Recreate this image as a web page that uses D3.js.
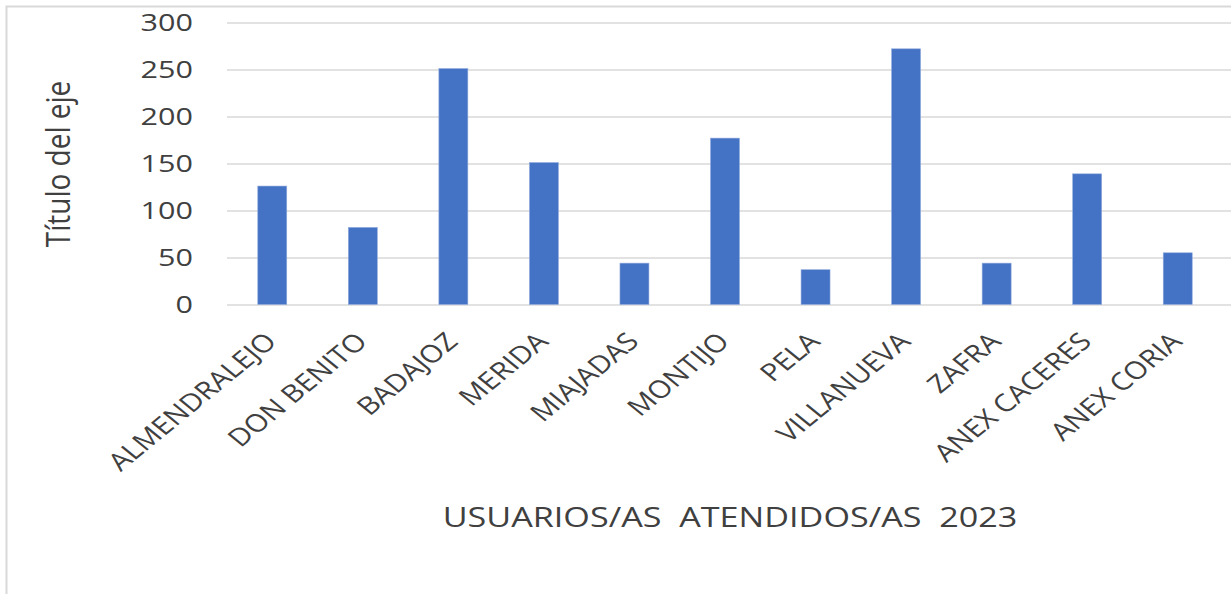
<!DOCTYPE html>
<html>
<head>
<meta charset="utf-8">
<script src="https://cdn.jsdelivr.net/npm/d3@7"></script>
<style>
  html, body { margin: 0; padding: 0; background: #ffffff; }
  svg { display: block; }
  text { font-family: "Open Sans", sans-serif; fill: #404040; }
</style>
</head>
<body>
<svg id="chart" width="1231" height="594"></svg>
<script>
const categories = ["ALMENDRALEJO", "DON BENITO", "BADAJOZ", "MERIDA", "MIAJADAS", "MONTIJO", "PELA", "VILLANUEVA", "ZAFRA", "ANEX CACERES", "ANEX CORIA"];
const values = [126, 82, 251, 151, 44, 177, 37, 272, 44, 139, 55];
const yTicks = [0, 50, 100, 150, 200, 250, 300];
const yTitle = "Título del eje";
const xTitle = "USUARIOS/AS  ATENDIDOS/AS  2023";

const W = 1231, H = 594;
const svg = d3.select("#chart");

// outer frame (only top and left edges visible)
svg.append("rect")
  .attr("x", 6.5).attr("y", 6.5)
  .attr("width", W + 20).attr("height", H + 20)
  .attr("fill", "none").attr("stroke", "#d9d9d9").attr("stroke-width", 2);

const x = d3.scaleBand().domain(categories).range([227, 1223])
  .paddingInner(0.68).paddingOuter(0.34);
const y = d3.scaleLinear().domain([0, 300]).range([304.5, 22.5]);

// gridlines
const yAxis = d3.axisLeft(y).tickValues(yTicks).tickSize(-(1231 - 227)).tickFormat("");
const gGrid = svg.append("g").attr("transform", "translate(227,0)").call(yAxis);
gGrid.select(".domain").remove();
gGrid.selectAll("line").attr("stroke", "#d9d9d9").attr("stroke-width", 1.6);

// y tick labels
svg.append("g").selectAll("text").data(yTicks).join("text")
  .attr("transform", d => `translate(193,${y(d)}) scale(1.3,1)`)
  .attr("text-anchor", "end")
  .attr("dy", "0.35em")
  .attr("font-size", 23.5)
  .text(d => d);

// bars
svg.append("g").selectAll("rect").data(categories).join("rect")
  .attr("x", d => x(d))
  .attr("width", x.bandwidth())
  .attr("y", (d, i) => y(values[i]))
  .attr("height", (d, i) => y(0) - y(values[i]))
  .attr("fill", "#4472c4")
  .attr("stroke", "#8faadc").attr("stroke-width", 0.6);

// category labels
svg.append("g").selectAll("text").data(categories).join("text")
  .attr("transform", d => `translate(${x(d) + x.bandwidth() / 2 + 6},343) scale(1.22,1) rotate(-45)`)
  .attr("text-anchor", "end")
  .attr("font-size", 24.5)
  .text(d => d);

// y axis title
svg.append("text")
  .attr("transform", `translate(70,164) scale(1.2,1) rotate(-90)`)
  .attr("text-anchor", "middle")
  .attr("font-size", 28)
  .text(yTitle);

// x axis title
svg.append("text")
  .attr("transform", `translate(730,527) scale(1.22,1)`)
  .attr("text-anchor", "middle")
  .attr("font-size", 28)
  .attr("xml:space", "preserve")
  .style("white-space", "pre")
  .text(xTitle);
</script>
</body>
</html>
